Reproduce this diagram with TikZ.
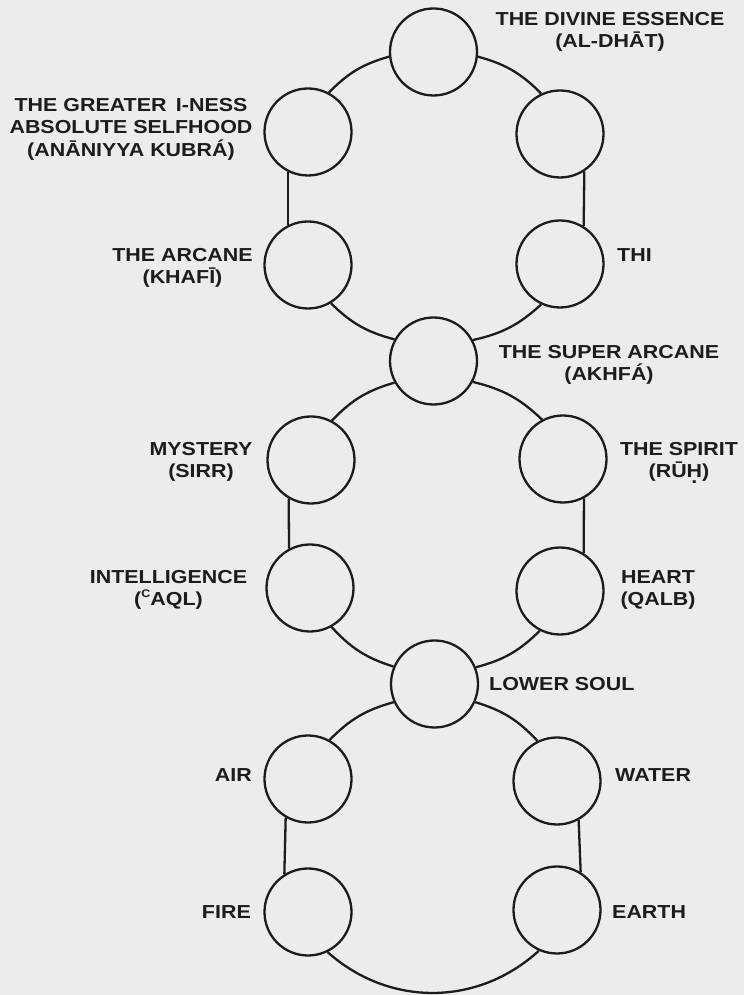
\documentclass[tikz,border=0pt]{standalone}
\usepackage{fontspec}
\newfontfamily\labfont{Liberation Sans}[FakeStretch=1.14]
\definecolor{paper}{RGB}{236,236,236}
\definecolor{ink}{RGB}{28,28,28}
\tikzset{
  soul/.style={circle, draw=ink, line width=2.3pt, minimum size=87pt, inner sep=0pt},
  ring/.style={draw=ink, line width=2.3pt},
  lab/.style={font=\labfont\bfseries\fontsize{18.8}{22.5}\selectfont, text=ink, inner sep=0pt, align=center},
}
\newcommand{\Hdot}{\rlap{\hspace{0.25em}\raisebox{-0.32em}{.}}H}
\newcommand{\supc}{\raisebox{0.42em}{\fontsize{11}{11}\selectfont C}}
\begin{document}
\begin{tikzpicture}[x=1pt,y=1pt]
\fill[paper] (0,0) rectangle (744,995);
\useasboundingbox (0,0) rectangle (744,995);

% circles
\node[soul] (top)     at (433.5,943) {};
\node[soul] (ul)      at (308,863) {};
\node[soul] (ur)      at (560,861) {};
\node[soul] (arcane)  at (308,730) {};
\node[soul] (thi)     at (560,731) {};
\node[soul] (super)   at (433.5,634) {};
\node[soul] (mystery) at (311,535) {};
\node[soul] (spirit)  at (563,536) {};
\node[soul] (intel)   at (310,407) {};
\node[soul] (heart)   at (560,404) {};
\node[soul] (lower)   at (434.5,311) {};
\node[soul] (air)     at (308,216) {};
\node[soul] (water)   at (557,214) {};
\node[soul] (fire)    at (308,83) {};
\node[soul] (earth)   at (557,85) {};

% top ring
\draw[ring] (top.186) to[bend right=15] (ul.62);
\draw[ring] (ul.243) -- (arcane.117);
\draw[ring] (arcane.301) to[bend right=15] (super.151.5);
\draw[ring] (top.354) to[bend left=15] (ur.115);
\draw[ring] (ur.303) -- (thi.58.6);
\draw[ring] (thi.245) to[bend left=15] (super.28);

% middle ring
\draw[ring] (super.209.6) to[bend right=15] (mystery.62);
\draw[ring] (mystery.240) -- (intel.118);
\draw[ring] (intel.299) to[bend right=15] (lower.157.7);
\draw[ring] (super.332.6) to[bend left=15] (spirit.118);
\draw[ring] (spirit.298) -- (heart.58.6);
\draw[ring] (heart.243) to[bend left=15] (lower.22.3);

% lower ring
\draw[ring] (lower.204.6) to[bend right=15] (air.61);
\draw[ring] (air.240) -- (fire.122.7);
\draw[ring] (lower.336) to[bend left=15] (water.116);
\draw[ring] (water.299) -- (earth.58.8);
\draw[ring] (fire.296) to[bend right=42] (earth.246);

% labels
\node[lab, anchor=north] (ldivine) at (610,983) {THE DIVINE ESSENCE\\(AL-DHĀT)};
\node[lab, anchor=north] (lgreater) at (131,897) {THE GREATER\enspace I-NESS\\ABSOLUTE SELFHOOD\\(ANĀNIYYA KUBRÁ)};
\node[lab, anchor=north] (larcane) at (182.5,747) {THE ARCANE\\(KHAFĪ)};
\node[lab, anchor=north west] (lthi) at (617,747) {THI};
\node[lab, anchor=north] (lsuper) at (609,650) {THE SUPER ARCANE\\(AKHFÁ)};
\node[lab, anchor=north] (lmystery) at (201,553) {MYSTERY\\(SIRR)};
\node[lab, anchor=north] (lspirit) at (679,553) {THE SPIRIT\\(RŪ\Hdot)};
\node[lab, anchor=north] (lintel) at (168.5,425) {INTELLIGENCE\\(\supc AQL)};
\node[lab, anchor=north] (lheart) at (658,425) {HEART\\(QALB)};
\node[lab, anchor=north west] (llower) at (489,318) {LOWER SOUL};
\node[lab, anchor=north east] (lair) at (252,227) {AIR};
\node[lab, anchor=north west] (lwater) at (615,227) {WATER};
\node[lab, anchor=north east] (lfire) at (251,90) {FIRE};
\node[lab, anchor=north west] (learth) at (612,90) {EARTH};
\end{tikzpicture}
\end{document}
